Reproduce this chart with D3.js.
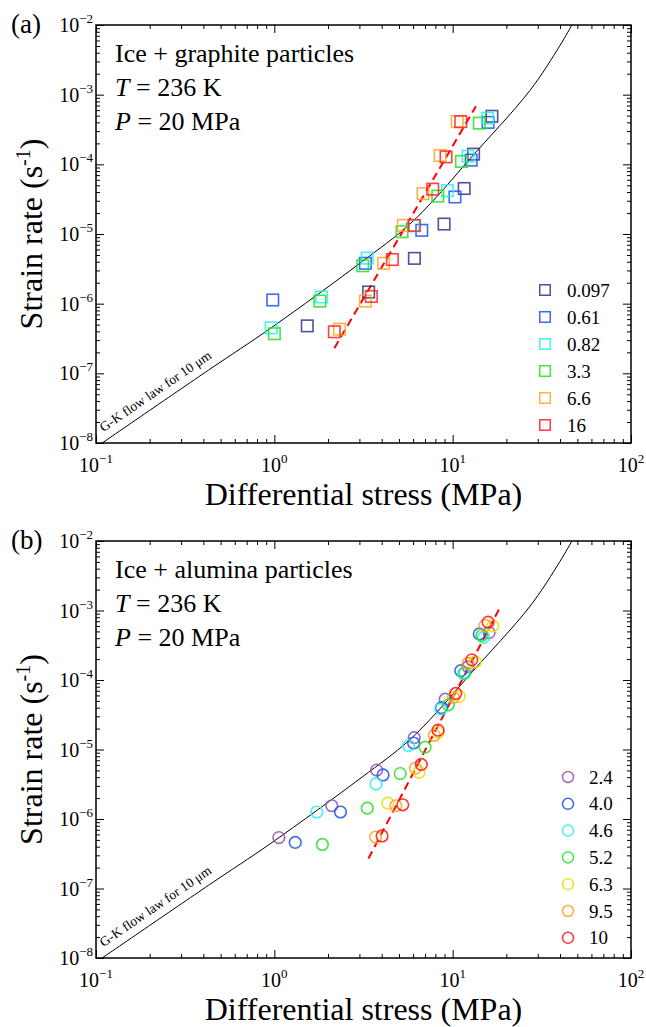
<!DOCTYPE html>
<html>
<head>
<meta charset="utf-8">
<script src="https://cdn.jsdelivr.net/npm/d3@7"></script>
<style>
  html, body { margin: 0; padding: 0; background: #fff; }
  svg { display: block; font-family: "Liberation Serif", "Times New Roman", serif; }
</style>
</head>
<body>
<svg id="chart" width="646" height="1027"></svg>
<script>
// axis ranges and tick labels
const stressDomain = [0.1, 100];
const rateDomain = [1e-8, 1e-2];
const xTickExps = [-1, 0, 1, 2];
const yTickExps = [-8, -7, -6, -5, -4, -3, -2];

// G-K flow law for 10 um
const gkStress = [0.1, 0.427, 0.96, 3.1, 5.6, 8.2, 12.5, 27.2, 40, 46.6];
const gkRate = [8.7e-9, 1.11e-7, 4.5e-7, 4.0e-6, 1.3e-5, 3.5e-5, 1.2e-4, 1.16e-3, 5.1e-3, 1.0e-2];

// (a) ice + graphite particles
const graphiteLabels = ["0.097", "0.61", "0.82", "3.3", "6.6", "16"];
const graphiteColors = ["#2b3486", "#1f4ff0", "#22f0f0", "#22e022", "#ffa520", "#ff1f1f"];
const graphiteStress = [
  [16.6, 13.1, 11.6, 8.95, 6.10, 3.38, 1.53],
  [15.8, 12.7, 10.3, 6.71, 3.24, 0.98],
  [15.7, 12.2, 9.34, 6.02, 3.32, 1.84, 0.96],
  [14.1, 11.2, 8.25, 5.20, 3.13, 1.80, 1.00],
  [10.6, 8.5, 6.82, 5.29, 4.10, 3.24, 2.32],
  [11.1, 9.18, 7.73, 6.10, 4.59, 3.50, 2.17]
];
const graphiteRate = [
  [4.9e-4, 1.40e-4, 4.5e-5, 1.39e-5, 4.47e-6, 1.47e-6, 4.8e-7],
  [4.0e-4, 1.15e-4, 3.4e-5, 1.13e-5, 3.8e-6, 1.13e-6],
  [4.6e-4, 1.31e-4, 4.2e-5, 1.31e-5, 4.5e-6, 1.25e-6, 4.5e-7],
  [3.9e-4, 1.10e-4, 3.5e-5, 1.08e-5, 3.5e-6, 1.09e-6, 3.7e-7],
  [4.1e-4, 1.34e-4, 3.8e-5, 1.33e-5, 3.8e-6, 1.09e-6, 4.3e-7],
  [4.1e-4, 1.28e-4, 4.4e-5, 1.33e-5, 4.3e-6, 1.27e-6, 3.95e-7]
];
const graphiteFitStress = [2.17, 13.5];
const graphiteFitRate = [2.3e-7, 6.8e-4];

// (b) ice + alumina particles
const aluminaLabels = ["2.4", "4.0", "4.6", "5.2", "6.3", "9.5", "10"];
const aluminaColors = ["#8e4fb5", "#1f4ff0", "#22eef5", "#22e022", "#e8e000", "#ffa020", "#ff1111"];
const aluminaStress = [
  [1.06, 2.10, 3.75, 6.09, 9.08, 12.2, 16.0],
  [1.31, 2.35, 4.07, 6.04, 8.66, 11.1, 14.1],
  [1.73, 3.72, 5.66, 8.58, 11.5, 14.9],
  [1.86, 3.32, 5.08, 7.0, 9.46, 11.7, 14.6],
  [4.33, 6.48, 8.31, 10.9, 13.4, 16.8],
  [3.70, 4.80, 6.19, 7.89, 10.1, 12.2, 15.2],
  [4.02, 5.25, 6.67, 8.28, 10.4, 12.8, 15.8]
];
const aluminaRate = [
  [5.4e-7, 1.55e-6, 5.06e-6, 1.48e-5, 5.3e-5, 1.55e-4, 4.8e-4],
  [4.6e-7, 1.26e-6, 4.3e-6, 1.24e-5, 4.0e-5, 1.36e-4, 4.6e-4],
  [1.26e-6, 3.2e-6, 1.14e-5, 3.8e-5, 1.23e-4, 4.1e-4],
  [4.3e-7, 1.43e-6, 4.5e-6, 1.08e-5, 4.4e-5, 1.27e-4, 4.4e-4],
  [1.69e-6, 4.7e-6, 1.77e-5, 5.8e-5, 1.82e-4, 6.0e-4],
  [5.5e-7, 1.55e-6, 5.4e-6, 1.60e-5, 5.6e-5, 1.73e-4, 6.1e-4],
  [5.7e-7, 1.60e-6, 6.1e-6, 1.90e-5, 6.4e-5, 1.95e-4, 6.8e-4]
];
const aluminaFitStress = [3.37, 18.2];
const aluminaFitRate = [2.7e-7, 1.04e-3];

const svg = d3.select("#chart");
const plotLeft = 96;
const plotRight = 631;

const panels = [
  {
    top: 25, bottom: 443, tag: "(a)", title: "Ice + graphite particles",
    labels: graphiteLabels, colors: graphiteColors,
    stress: graphiteStress, rate: graphiteRate,
    fitStress: graphiteFitStress, fitRate: graphiteFitRate,
    marker: "square", legendX: 545, legendY: 290, legendStep: 27, legendText: 567
  },
  {
    top: 541, bottom: 958, tag: "(b)", title: "Ice + alumina particles",
    labels: aluminaLabels, colors: aluminaColors,
    stress: aluminaStress, rate: aluminaRate,
    fitStress: aluminaFitStress, fitRate: aluminaFitRate,
    marker: "circle", legendX: 568, legendY: 777, legendStep: 26.8, legendText: 589
  }
];

function minorTicks(domain) {
  const out = [];
  const e0 = Math.round(Math.log10(domain[0]));
  const e1 = Math.round(Math.log10(domain[1]));
  for (let e = e0; e < e1; e++) {
    for (let m = 2; m <= 9; m++) out.push(m * Math.pow(10, e));
  }
  return out;
}

function addMarker(g, kind, cx, cy, color) {
  if (kind === "square") {
    g.append("rect")
      .attr("x", cx - 5.75).attr("y", cy - 5.75)
      .attr("width", 11.5).attr("height", 11.5)
      .attr("fill", "none").attr("stroke", color)
      .attr("stroke-width", 1.6).attr("stroke-opacity", 0.85);
  } else {
    g.append("circle")
      .attr("cx", cx).attr("cy", cy).attr("r", 5.8)
      .attr("fill", "none").attr("stroke", color)
      .attr("stroke-width", 1.6).attr("stroke-opacity", 0.85);
  }
}

function pow10Label(sel, exp, supDy) {
  sel.append("tspan").text("10");
  sel.append("tspan")
    .attr("dy", supDy)
    .attr("font-size", 13)
    .text((exp < 0 ? "\u2212" : "") + Math.abs(exp));
}

panels.forEach((p, i) => {
  const x = d3.scaleLog().domain(stressDomain).range([plotLeft, plotRight]);
  const y = d3.scaleLog().domain(rateDomain).range([p.bottom, p.top]);
  const g = svg.append("g");

  const clipId = "clip" + i;
  svg.append("clipPath").attr("id", clipId)
    .append("rect")
    .attr("x", plotLeft).attr("y", p.top)
    .attr("width", plotRight - plotLeft).attr("height", p.bottom - p.top);

  //=== ticks on all four sides, pointing in ===
  const xMajor = xTickExps.map((e) => Math.pow(10, e));
  const yMajor = yTickExps.map((e) => Math.pow(10, e));
  const xMinor = minorTicks(stressDomain);
  const yMinor = minorTicks(rateDomain);

  const axes = [
    [d3.axisBottom(x), `translate(0,${p.bottom})`, xMajor, xMinor],
    [d3.axisTop(x), `translate(0,${p.top})`, xMajor, xMinor],
    [d3.axisLeft(y), `translate(${plotLeft},0)`, yMajor, yMinor],
    [d3.axisRight(y), `translate(${plotRight},0)`, yMajor, yMinor]
  ];
  axes.forEach(([axis, tr, major, minor]) => {
    g.append("g").attr("transform", tr)
      .call(axis.tickValues(major).tickSize(-8).tickFormat(""))
      .call((s) => s.select(".domain").remove());
    g.append("g").attr("transform", tr)
      .call(axis.tickValues(minor).tickSize(-4).tickFormat(""))
      .call((s) => s.select(".domain").remove());
  });
  g.selectAll(".tick line").attr("stroke", "#000").attr("stroke-width", 1);

  //=== G-K curve ===
  const gkPoints = gkStress.map((s, k) => [s, gkRate[k]]);
  const line = d3.line()
    .x((d) => x(d[0]))
    .y((d) => y(d[1]))
    .curve(d3.curveCatmullRom.alpha(0.5));
  g.append("path")
    .datum(gkPoints)
    .attr("clip-path", `url(#${clipId})`)
    .attr("fill", "none")
    .attr("stroke", "#000")
    .attr("stroke-width", 1)
    .attr("d", line);

  // label along the lower part of the curve
  const x0 = x(gkStress[0]), y0 = y(gkRate[0]);
  const x1 = x(gkStress[1]), y1 = y(gkRate[1]);
  const angle = Math.atan2(y1 - y0, x1 - x0) * 180 / Math.PI;
  const lx = x(0.11);
  const ly = y0 + (y1 - y0) * (lx - x0) / (x1 - x0) - 10;
  g.append("text")
    .attr("transform", `translate(${lx},${ly}) rotate(${angle})`)
    .attr("font-size", 13.5)
    .text("G-K flow law for 10 \u03bcm");

  //=== red dashed fit ===
  g.append("path")
    .datum(p.fitStress.map((s, k) => [s, p.fitRate[k]]))
    .attr("fill", "none")
    .attr("stroke", "#ff0000")
    .attr("stroke-width", 2)
    .attr("stroke-dasharray", "8,5")
    .attr("d", d3.line().x((d) => x(d[0])).y((d) => y(d[1])));

  //=== data points ===
  p.stress.forEach((series, k) => {
    const sg = g.append("g");
    series.forEach((s, j) => addMarker(sg, p.marker, x(s), y(p.rate[k][j]), p.colors[k]));
  });

  //=== frame ===
  g.append("rect")
    .attr("x", plotLeft).attr("y", p.top)
    .attr("width", plotRight - plotLeft).attr("height", p.bottom - p.top)
    .attr("fill", "none").attr("stroke", "#000").attr("stroke-width", 1.5);

  //=== tick labels ===
  xTickExps.forEach((e) => {
    const t = g.append("text")
      .attr("x", x(Math.pow(10, e))).attr("y", p.bottom + 29)
      .attr("text-anchor", "middle").attr("font-size", 20);
    pow10Label(t, e, -9);
  });
  yTickExps.forEach((e) => {
    const t = g.append("text")
      .attr("x", plotLeft - 3).attr("y", y(Math.pow(10, e)) + 7)
      .attr("text-anchor", "end").attr("font-size", 20);
    pow10Label(t, e, -9);
  });

  //=== axis titles ===
  g.append("text")
    .attr("x", (plotLeft + plotRight) / 2).attr("y", p.bottom + 62)
    .attr("text-anchor", "middle").attr("font-size", 32)
    .text("Differential stress (MPa)");

  const yt = g.append("text")
    .attr("transform", `translate(42,${(p.top + p.bottom) / 2}) rotate(-90)`)
    .attr("text-anchor", "middle").attr("font-size", 32);
  yt.append("tspan").text("Strain rate (s");
  yt.append("tspan").attr("dy", -12).attr("font-size", 20).text("-1");
  yt.append("tspan").attr("dy", 12).text(")");

  //=== panel tag and annotations ===
  g.append("text").attr("x", 11).attr("y", p.top + 8)
    .attr("font-size", 27).text(p.tag);

  g.append("text").attr("x", 115).attr("y", p.top + 37)
    .attr("font-size", 26).text(p.title);
  const tT = g.append("text").attr("x", 115).attr("y", p.top + 71).attr("font-size", 26);
  tT.append("tspan").attr("font-style", "italic").text("T");
  tT.append("tspan").text(" = 236 K");
  const tP = g.append("text").attr("x", 115).attr("y", p.top + 105).attr("font-size", 26);
  tP.append("tspan").attr("font-style", "italic").text("P");
  tP.append("tspan").text(" = 20 MPa");

  //=== legend ===
  p.labels.forEach((lab, k) => {
    const cy = p.legendY + k * p.legendStep;
    const lg = g.append("g");
    if (p.marker === "square") {
      lg.append("rect")
        .attr("x", p.legendX - 5.25).attr("y", cy - 5.25)
        .attr("width", 10.5).attr("height", 10.5)
        .attr("fill", "none").attr("stroke", p.colors[k])
        .attr("stroke-width", 1.5).attr("stroke-opacity", 0.85);
    } else {
      lg.append("circle")
        .attr("cx", p.legendX).attr("cy", cy).attr("r", 5.5)
        .attr("fill", "none").attr("stroke", p.colors[k])
        .attr("stroke-width", 1.5).attr("stroke-opacity", 0.85);
    }
    lg.append("text")
      .attr("x", p.legendText).attr("y", cy + 6.5)
      .attr("font-size", 19).text(lab);
  });
});
</script>
</body>
</html>
